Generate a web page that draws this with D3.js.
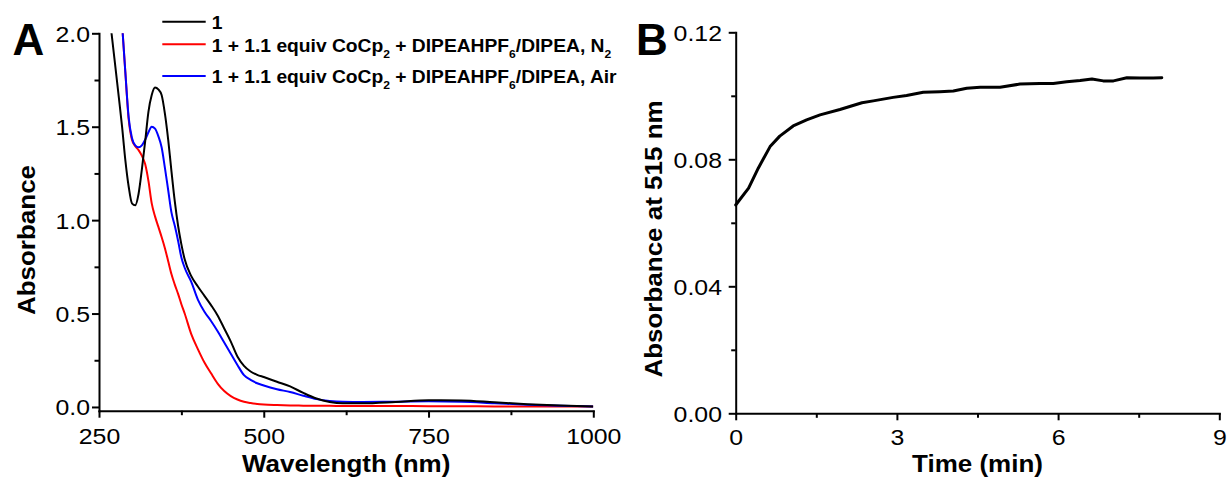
<!DOCTYPE html>
<html>
<head>
<meta charset="utf-8">
<script src="https://cdn.jsdelivr.net/npm/d3@7/dist/d3.min.js"></script>
<style>
  html, body { margin: 0; padding: 0; background: #fff; }
  svg { display: block; }
  text { font-family: "Liberation Sans", Arial, sans-serif; fill: #000; }
</style>
</head>
<body>
<svg id="fig" width="1228" height="478"></svg>
<script>
// ---- Panel A: UV-vis spectra (wavelength in nm, absorbance) ----
const wavelength = [260, 270, 280, 285, 290, 295, 300, 305, 310, 315,
  320, 325, 330, 335, 340, 345, 350, 355, 360, 365,
  370, 375, 380, 390, 400, 410, 420, 430, 440, 450,
  460, 470, 480, 490, 500, 520, 540, 560, 580, 600,
  620, 650, 700, 750, 800, 850, 900, 950, 1000];

const absComplex = [2.28, 1.97, 1.66, 1.50, 1.32, 1.18, 1.09, 1.08, 1.14, 1.27,
  1.42, 1.58, 1.67, 1.71, 1.70, 1.67, 1.57, 1.43, 1.26, 1.10,
  0.97, 0.87, 0.79, 0.70, 0.645, 0.595, 0.545, 0.49, 0.42, 0.35,
  0.27, 0.22, 0.19, 0.172, 0.16, 0.135, 0.11, 0.075, 0.045, 0.027,
  0.02, 0.02, 0.027, 0.036, 0.035, 0.025, 0.015, 0.008, 0.003];

const absN2 = [null, null, 2.31, 2.05, 1.79, 1.54, 1.43, 1.395, 1.375, 1.345,
  1.30, 1.21, 1.09, 1.02, 0.965, 0.91, 0.85, 0.78, 0.71, 0.655,
  0.605, 0.55, 0.50, 0.39, 0.31, 0.238, 0.18, 0.125, 0.085, 0.058,
  0.04, 0.028, 0.021, 0.016, 0.013, 0.01, 0.008, 0.007, 0.006, 0.006,
  0.005, 0.005, 0.005, 0.004, 0.004, 0.003, 0.003, 0.002, 0.002];

const absAir = [null, null, 2.31, 2.05, 1.79, 1.55, 1.44, 1.40, 1.39, 1.40,
  1.43, 1.47, 1.50, 1.49, 1.45, 1.39, 1.28, 1.16, 1.04, 0.97,
  0.89, 0.80, 0.745, 0.67, 0.575, 0.51, 0.46, 0.405, 0.345, 0.285,
  0.225, 0.17, 0.145, 0.127, 0.115, 0.095, 0.08, 0.06, 0.042, 0.032,
  0.028, 0.027, 0.028, 0.03, 0.028, 0.02, 0.012, 0.006, 0.002];

const seriesLabels = [
  "1",
  "1 + 1.1 equiv CoCp_{2} + DIPEAHPF_{6}/DIPEA, N_{2}",
  "1 + 1.1 equiv CoCp_{2} + DIPEAHPF_{6}/DIPEA, Air"
];
const seriesColors = ["#000000", "#ff0000", "#0000ff"];

const wlTicks = [250, 500, 750, 1000];
const wlMinor = [375, 625, 875];
const absTicks = [0.0, 0.5, 1.0, 1.5, 2.0];
const absMinor = [0.25, 0.75, 1.25, 1.75];

// ---- Panel B: kinetics at 515 nm ----
const timeMin = [0, 0.24, 0.42, 0.64, 0.82, 1.07, 1.32, 1.57, 1.94, 2.35,
  2.56, 2.93, 3.18, 3.49, 3.80, 4.05, 4.30, 4.55, 4.92, 5.29,
  5.66, 5.91, 6.16, 6.41, 6.63, 6.84, 7.03, 7.28, 7.52, 7.77, 7.93];
const abs515 = [0.0656, 0.0709, 0.0772, 0.0840, 0.0873, 0.0905, 0.0924, 0.0940, 0.0957, 0.0978,
  0.0984, 0.0995, 0.1001, 0.1011, 0.1013, 0.1015, 0.1024, 0.1027, 0.1027, 0.1037,
  0.1039, 0.1039, 0.1044, 0.1048, 0.1053, 0.1047, 0.1047, 0.1057, 0.1056, 0.1056, 0.1057];

const timeTicks = [0, 3, 6, 9];
const timeMinor = [1.5, 4.5, 7.5];
const kinTicks = [0.00, 0.04, 0.08, 0.12];
const kinMinor = [0.02, 0.06, 0.10];

// ---------------------------------------------------------------
const svg = d3.select("#fig");
const STRETCH = 1.13;   // glyphs are drawn slightly wide
const FONT = '"Liberation Sans", Arial, sans-serif';

// Re-anchor a text node so it can be widened horizontally about its anchor.
function widen(sel, k) {
  sel.each(function () {
    const t = d3.select(this);
    const x = +t.attr("x") || 0, y = +t.attr("y") || 0;
    t.attr("x", 0).attr("y", 0)
      .attr("transform", `translate(${x},${y}) scale(${k},1)`);
  });
}

function styleAxis(g, opts) {
  g.select(".domain").attr("stroke-width", 2).attr("stroke-linecap", "square");
  g.selectAll(".tick line").attr("stroke-width", 2);
  g.selectAll(".tick text")
    .attr("font-family", FONT)
    .attr("font-size", 22)
    .attr("fill", "#000");
  if (opts.bottom) {
    g.selectAll(".tick text").attr("y", opts.labelOffset).attr("dy", 0);
  } else {
    g.selectAll(".tick text").attr("x", -opts.labelOffset).attr("dy", "0.36em");
  }
  widen(g.selectAll(".tick text"), STRETCH);
}

function minorAxis(parent, axisFn, scale, values, transform) {
  parent.append("g")
    .attr("transform", transform)
    .call(axisFn(scale).tickValues(values).tickSize(4.5).tickSizeOuter(0).tickFormat(""))
    .call(g => g.select(".domain").remove())
    .call(g => g.selectAll(".tick text").remove())
    .call(g => g.selectAll(".tick line").attr("stroke-width", 2));
}

// ================= Panel A =================
const ax = { left: 99, right: 593.3, top: 33.3, bottom: 410.7 };
const xA = d3.scaleLinear().domain([250, 1000]).range([ax.left, ax.right]);
const yA = d3.scaleLinear().domain([-0.02, 2.0]).range([ax.bottom, ax.top]);

const gA = svg.append("g");

svg.append("defs").append("clipPath").attr("id", "clipA")
  .append("rect")
  .attr("x", ax.left).attr("y", ax.top)
  .attr("width", ax.right - ax.left).attr("height", ax.bottom - ax.top);

const spectra = [absComplex, absN2, absAir];
const lineA = d3.line()
  .defined(d => d[1] !== null)
  .x(d => xA(d[0]))
  .y(d => yA(d[1]))
  .curve(d3.curveMonotoneX);

const plotA = gA.append("g").attr("clip-path", "url(#clipA)");
// red first, then blue, then black on top where they share the baseline
[1, 2, 0].forEach(i => {
  const pts = wavelength.map((w, j) => [w, spectra[i][j]]);
  plotA.append("path")
    .attr("d", lineA(pts))
    .attr("fill", "none")
    .attr("stroke", seriesColors[i])
    .attr("stroke-width", 2)
    .attr("stroke-linejoin", "round");
});

// axes
const xAxisA = gA.append("g")
  .attr("transform", `translate(0,${ax.bottom})`)
  .call(d3.axisBottom(xA).tickValues(wlTicks).tickSize(7).tickSizeOuter(0).tickFormat(d3.format("d")));
styleAxis(xAxisA, { bottom: true, labelOffset: 33.3 });
minorAxis(gA, d3.axisBottom, xA, wlMinor, `translate(0,${ax.bottom})`);

const yAxisA = gA.append("g")
  .attr("transform", `translate(${ax.left},0)`)
  .call(d3.axisLeft(yA).tickValues(absTicks).tickSize(7).tickSizeOuter(0).tickFormat(d3.format(".1f")));
styleAxis(yAxisA, { bottom: false, labelOffset: 9 });
minorAxis(gA, d3.axisLeft, yA, absMinor, `translate(${ax.left},0)`);

// axis titles
const titleA1 = gA.append("text")
  .attr("x", (ax.left + ax.right) / 2).attr("y", 471.7)
  .attr("text-anchor", "middle").attr("font-weight", "bold").attr("font-size", 23)
  .text("Wavelength (nm)");
widen(titleA1, STRETCH);

gA.append("text")
  .attr("transform", `translate(35,240) rotate(-90) scale(${STRETCH},1)`)
  .attr("text-anchor", "middle").attr("font-weight", "bold").attr("font-size", 23)
  .text("Absorbance");

// panel letter
gA.append("text").attr("x", 12.5).attr("y", 55)
  .attr("font-weight", "bold").attr("font-size", 44).text("A");

// legend
const legendRows = [21.7, 44.3, 76];
const legendBase = [28.5, 51.7, 82.7];
const legend = gA.append("g");
seriesLabels.forEach((label, i) => {
  legend.append("line")
    .attr("x1", 162.3).attr("x2", 205.7)
    .attr("y1", legendRows[i]).attr("y2", legendRows[i])
    .attr("stroke", seriesColors[i]).attr("stroke-width", 2);
  const t = legend.append("text")
    .attr("x", 211.7).attr("y", legendBase[i])
    .attr("font-weight", "bold").attr("font-size", 17.5);
  // split "text_{sub}" markup into baseline / subscript runs
  const parts = label.split(/(_\{[^}]*\})/).filter(s => s.length);
  let lowered = false;
  parts.forEach(p => {
    const m = p.match(/^_\{([^}]*)\}$/);
    if (m) {
      t.append("tspan").attr("dy", 6).attr("font-size", 11).text(m[1]);
      lowered = true;
    } else {
      t.append("tspan").attr("dy", lowered ? -6 : 0).text(p);
      lowered = false;
    }
  });
  widen(t, 1.1);
});

// ================= Panel B =================
const bx = { left: 735.7, right: 1219.3, top: 32.3, bottom: 413.3 };
const xB = d3.scaleLinear().domain([0, 9]).range([bx.left, bx.right]);
const yB = d3.scaleLinear().domain([0, 0.12]).range([bx.bottom, bx.top]);
const gB = svg.append("g");

gB.append("path")
  .attr("d", d3.line().x((d, i) => xB(timeMin[i])).y(d => yB(d))(abs515))
  .attr("fill", "none")
  .attr("stroke", "#000")
  .attr("stroke-width", 3)
  .attr("stroke-linejoin", "round")
  .attr("stroke-linecap", "round");

const xAxisB = gB.append("g")
  .attr("transform", `translate(0,${bx.bottom})`)
  .call(d3.axisBottom(xB).tickValues(timeTicks).tickSize(7).tickSizeOuter(0).tickFormat(d3.format("d")));
styleAxis(xAxisB, { bottom: true, labelOffset: 31.7 });
minorAxis(gB, d3.axisBottom, xB, timeMinor, `translate(0,${bx.bottom})`);

const yAxisB = gB.append("g")
  .attr("transform", `translate(${bx.left},0)`)
  .call(d3.axisLeft(yB).tickValues(kinTicks).tickSize(7).tickSizeOuter(0).tickFormat(d3.format(".2f")));
styleAxis(yAxisB, { bottom: false, labelOffset: 13.7 });
minorAxis(gB, d3.axisLeft, yB, kinMinor, `translate(${bx.left},0)`);

const titleB1 = gB.append("text")
  .attr("x", (bx.left + bx.right) / 2).attr("y", 471.5)
  .attr("text-anchor", "middle").attr("font-weight", "bold").attr("font-size", 23)
  .text("Time (min)");
widen(titleB1, STRETCH);

gB.append("text")
  .attr("transform", `translate(661.7,239) rotate(-90) scale(${STRETCH},1)`)
  .attr("text-anchor", "middle").attr("font-weight", "bold").attr("font-size", 23)
  .text("Absorbance at 515 nm");

gB.append("text").attr("x", 636).attr("y", 55)
  .attr("font-weight", "bold").attr("font-size", 44).text("B");
</script>
</body>
</html>
